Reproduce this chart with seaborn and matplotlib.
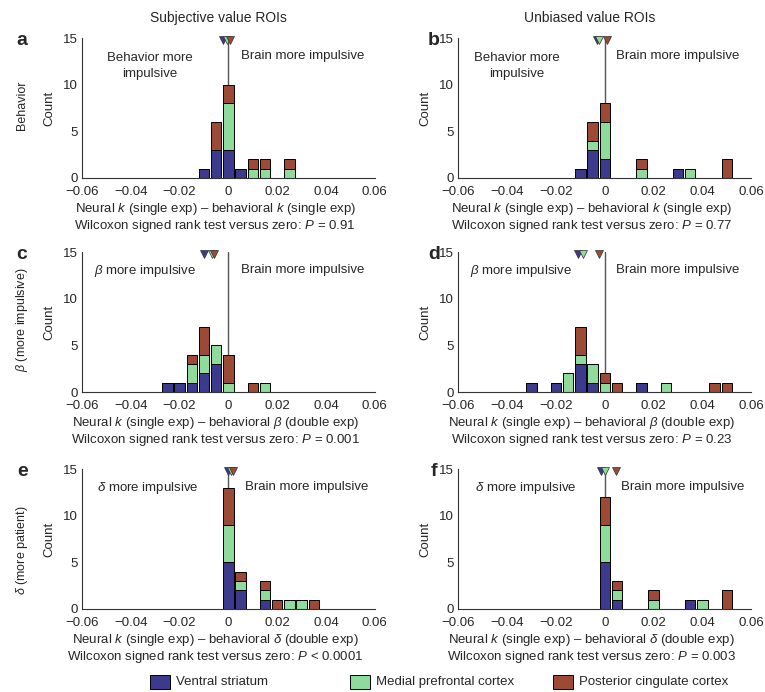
import numpy as np
import pandas as pd
import seaborn as sns
import matplotlib.pyplot as plt
from matplotlib.patches import Rectangle

rois = ['Ventral striatum', 'Medial prefrontal cortex', 'Posterior cingulate cortex']
colors = ['#3c3a8c', '#8fdb9b', '#9c4a36']

# bin centres (difference in k) and counts per ROI, one set per panel
a_x = [-0.010, -0.005, 0.0, 0.005, 0.010, 0.015, 0.025]
a_vs = [1, 3, 3, 1, 0, 0, 0]
a_mpfc = [0, 0, 5, 0, 1, 1, 1]
a_pcc = [0, 3, 2, 0, 1, 1, 1]
a_med = [-0.002, -0.0005, 0.0005]

b_x = [-0.010, -0.005, 0.0, 0.015, 0.030, 0.035, 0.050]
b_vs = [1, 3, 2, 0, 1, 0, 0]
b_mpfc = [0, 1, 4, 1, 0, 1, 0]
b_pcc = [0, 2, 2, 1, 0, 0, 2]
b_med = [-0.003, -0.0025, 0.001]

c_x = [-0.025, -0.020, -0.015, -0.010, -0.005, 0.0, 0.010, 0.015]
c_vs = [1, 1, 1, 2, 3, 0, 0, 0]
c_mpfc = [0, 0, 2, 2, 2, 1, 0, 1]
c_pcc = [0, 0, 1, 3, 0, 3, 1, 0]
c_med = [-0.010, -0.0065, -0.006]

d_x = [-0.030, -0.020, -0.015, -0.010, -0.005, 0.0, 0.005, 0.015, 0.025, 0.045, 0.050]
d_vs = [1, 1, 0, 3, 1, 0, 0, 1, 0, 0, 0]
d_mpfc = [0, 0, 2, 1, 2, 1, 0, 0, 1, 0, 0]
d_pcc = [0, 0, 0, 3, 0, 1, 1, 0, 0, 1, 1]
d_med = [-0.011, -0.009, -0.0025]

e_x = [0.0, 0.005, 0.015, 0.020, 0.025, 0.030, 0.035]
e_vs = [5, 2, 1, 0, 0, 0, 0]
e_mpfc = [4, 1, 1, 0, 1, 1, 0]
e_pcc = [4, 1, 1, 1, 0, 0, 1]
e_med = [0.0, 0.001, 0.002]

f_x = [0.0, 0.005, 0.020, 0.035, 0.040, 0.050]
f_vs = [5, 1, 0, 1, 0, 0]
f_mpfc = [4, 1, 1, 0, 1, 0]
f_pcc = [3, 1, 1, 0, 0, 2]
f_med = [-0.0015, 0.0, 0.0045]

xlabels = [r'Neural $k$ (single exp) – behavioral $k$ (single exp)',
           r'Neural $k$ (single exp) – behavioral $\beta$ (double exp)',
           r'Neural $k$ (single exp) – behavioral $\delta$ (double exp)']
pvals = [['= 0.91', '= 0.77'], ['= 0.001', '= 0.23'], ['< 0.0001', '= 0.003']]
left_txt = ['Behavior more\nimpulsive', r'$\beta$ more impulsive', r'$\delta$ more impulsive']
row_labels = ['Behavior', r'$\beta$ (more impulsive)', r'$\delta$ (more patient)']

sns.set_style('white')
plt.rcParams['font.family'] = ['Liberation Sans', 'DejaVu Sans']
plt.rcParams['mathtext.fontset'] = 'custom'
plt.rcParams['mathtext.rm'] = 'Liberation Sans'
plt.rcParams['mathtext.it'] = 'Liberation Sans:italic'
plt.rcParams['font.size'] = 9

fig = plt.figure(figsize=(7.65, 6.92), dpi=100)

panels = [
    (a_x, a_vs, a_mpfc, a_pcc, a_med),
    (b_x, b_vs, b_mpfc, b_pcc, b_med),
    (c_x, c_vs, c_mpfc, c_pcc, c_med),
    (d_x, d_vs, d_mpfc, d_pcc, d_med),
    (e_x, e_vs, e_mpfc, e_pcc, e_med),
    (f_x, f_vs, f_mpfc, f_pcc, f_med),
]
lefts = [0.107, 0.599]
bottoms = [0.743, 0.4335, 0.12]
letters = 'abcdef'
brain_x = [[0.005, 0.0045], [0.005, 0.0045], [0.007, 0.0065]]
left_x = [[-0.032, -0.036], [-0.055, -0.055], [-0.054, -0.053]]

for i, (xs, vs, mp, pc, med) in enumerate(panels):
    row, col = divmod(i, 2)
    ax = fig.add_axes([lefts[col], bottoms[row], 0.383, 0.202])
    df = pd.DataFrame({
        'diff': xs * 3,
        'count': vs + mp + pc,
        'roi': [rois[0]] * len(xs) + [rois[1]] * len(xs) + [rois[2]] * len(xs),
    })
    sns.histplot(data=df, x='diff', weights='count', hue='roi',
                 hue_order=rois[::-1], palette=dict(zip(rois, colors)),
                 multiple='stack', binwidth=0.005, binrange=(-0.0625, 0.0625),
                 shrink=0.85, edgecolor='black', linewidth=0.7, alpha=1,
                 legend=False, ax=ax)
    ax.plot([0, 0], [0, 15], color='#555555', lw=1, zorder=0)
    for m, c in zip(med, colors):
        ax.plot(m, 14.8, marker='v', ms=6, color=c, mec='#333333', mew=0.5,
                clip_on=False, zorder=5)
    ax.set_xlim(-0.06, 0.06)
    ax.set_ylim(0, 15)
    ax.set_xticks([-0.06, -0.04, -0.02, 0, 0.02, 0.04, 0.06])
    ax.set_xticklabels(['−0.06', '−0.04', '−0.02', '0', '0.02', '0.04', '0.06'])
    ax.set_yticks([0, 5, 10, 15])
    ax.tick_params(direction='in', length=3, labelsize=9.5)
    ax.tick_params(axis='x', pad=6)
    ax.tick_params(axis='y', pad=3)
    for s in ['top', 'right']:
        ax.spines[s].set_visible(False)
    for s in ['left', 'bottom']:
        ax.spines[s].set_color('#333333')
        ax.spines[s].set_linewidth(0.8)
    ax.set_xlabel('')
    ax.set_ylabel('Count', fontsize=9.5)
    ax.yaxis.set_label_coords(-0.09, 0.5)
    ax.text(0.455, -0.225, xlabels[row], transform=ax.transAxes,
            ha='center', va='center', fontsize=9.5)
    ax.text(0.455, -0.345,
            'Wilcoxon signed rank test versus zero: $P$ ' + pvals[row][col],
            transform=ax.transAxes, ha='center', va='center', fontsize=9.5)
    if row == 0:
        ax.text(left_x[row][col], 12.0, left_txt[row], ha='center', va='center',
                fontsize=9.5, linespacing=1.35)
    else:
        ax.text(left_x[row][col], 13.0, left_txt[row], ha='left', va='center',
                fontsize=9.5)
    ax.text(brain_x[row][col], 13.1, 'Brain more impulsive', ha='left',
            va='center', fontsize=9.5)
    fig.text(0.029 + col * 0.538, bottoms[row] + 0.199, letters[i],
             fontsize=14, fontweight='bold', ha='center', va='center')

fig.text(0.285, 0.974, 'Subjective value ROIs', ha='center', va='center', fontsize=10)
fig.text(0.771, 0.974, 'Unbiased value ROIs', ha='center', va='center', fontsize=10)

row_y = [0.848, 0.538, 0.205]
for lab, y in zip(row_labels, row_y):
    fig.text(0.029, y, lab, rotation=90, ha='center', va='center', fontsize=9)

# legend row along the bottom
leg_x = [150, 350, 553]
for px, c, name in zip(leg_x, colors, rois):
    fig.patches.append(Rectangle((px / 765, 0.004), 20 / 765, 0.021,
                                 transform=fig.transFigure, facecolor=c,
                                 edgecolor='black', linewidth=0.7))
    fig.text((px + 26) / 765, 0.014, name, ha='left', va='center', fontsize=9.5)

fig.savefig('out.png', dpi=100)
